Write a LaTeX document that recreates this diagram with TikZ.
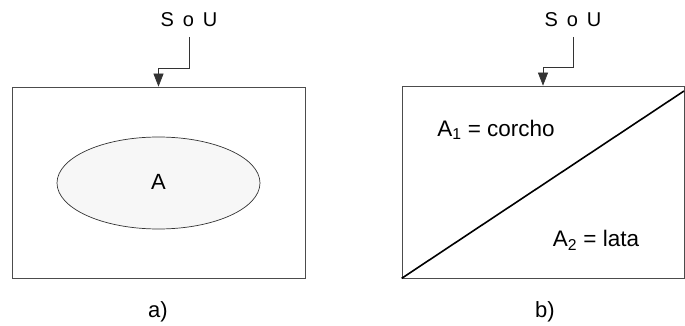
\documentclass[tikz,border=0pt]{standalone}
\usepackage{fontspec}
\setmainfont{Liberation Sans}
\usetikzlibrary{arrows.meta,shapes.geometric}
\begin{document}
\begin{tikzpicture}[x=1pt,y=1pt,
  frame/.style={draw=black!70, line width=0.7pt},
  conn/.style={draw=black!80, line width=0.7pt},
  tip/.style={-{Triangle[width=10pt,length=13pt]}},
  lbl/.style={font=\fontsize{22}{24}\selectfont, inner sep=0pt},
  big/.style={font=\fontsize{22.5}{25}\selectfont, inner sep=0pt},
  src/.style={font=\fontsize{20}{22}\selectfont, inner sep=0pt}]
\useasboundingbox (0,0) rectangle (685,-326);
% panel a
\node[frame, minimum width=293pt, minimum height=191pt, inner sep=0pt] (boxa) at (158.5,-182.5) {};
\node[draw=black!80, line width=0.7pt, fill=black!3, ellipse, minimum width=203pt, minimum height=92pt, inner sep=0pt] (ell) at (158.5,-183) {};
\node[lbl] (A) at (158.5,-182) {A};
\node[src] (soua) at (189,-20) {S\hspace{0.45em}o\hspace{0.45em}U};
\coordinate (sa) at (189,-37);
\draw[conn, tip] (sa) -- ++(0,-31) -| (boxa.north);
\node[lbl] (la) at (158,-312) {a)};
% panel b
\node[frame, minimum width=282pt, minimum height=192pt, inner sep=0pt] (boxb) at (543,-182) {};
\coordinate (diagend) at (684,-91);
\draw[line width=1.6pt] (boxb.south west) -- (diagend);
\node[big] (a1) at (496,-130) {A\textsubscript{1} = corcho};
\node[big] (a2) at (596,-240) {A\textsubscript{2} = lata};
\node[src] (soub) at (573,-20) {S\hspace{0.45em}o\hspace{0.45em}U};
\coordinate (sb) at (573,-37);
\draw[conn, tip] (sb) -- ++(0,-30) -| (boxb.north);
\node[lbl] (lb) at (545,-312) {b)};
\end{tikzpicture}
\end{document}
